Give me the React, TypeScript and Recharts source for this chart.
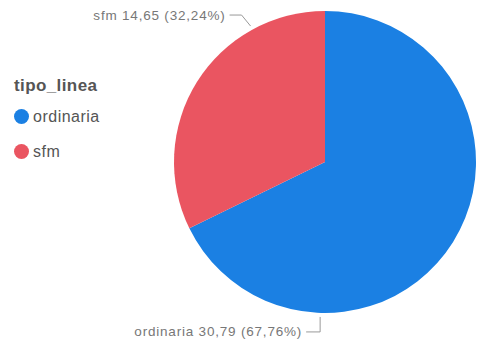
import React from "react";
import { PieChart, Pie, Cell, Legend } from "recharts";

const categories = ["ordinaria", "sfm"];
const values = [30.79, 14.65];
const colors = ["#1b80e3", "#ea5561"];
const legendTitle = "tipo_linea";

const data = categories.map((name, i) => ({ name, value: values[i] }));

const fmt = (n: number) => n.toFixed(2).replace(".", ",");

const RAD = Math.PI / 180;
const polar = (cx: number, cy: number, r: number, a: number) => ({
  x: cx + r * Math.cos(-a * RAD),
  y: cy + r * Math.sin(-a * RAD),
});

const renderLabel = (props: any) => {
  const { cx, cy, outerRadius, index, name, value, percent } = props;
  const text = `${name} ${fmt(value)} (${fmt(percent * 100)}%)`;
  let pts: { x: number; y: number }[];
  if (index === 0) {
    const p1 = polar(cx, cy, outerRadius + 4, -91.8);
    const p2 = { x: p1.x, y: p1.y + 15 };
    const p3 = { x: p2.x - 14, y: p2.y };
    pts = [p1, p2, p3];
  } else {
    const p1 = polar(cx, cy, outerRadius + 4, 118.7);
    const p2 = { x: p1.x - 9, y: p1.y - 11 };
    const p3 = { x: p2.x - 12, y: p2.y };
    pts = [p1, p2, p3];
  }
  const last = pts[pts.length - 1];
  return (
    <g>
      <polyline
        points={pts.map((p) => `${p.x},${p.y}`).join(" ")}
        fill="none"
        stroke="#999"
        strokeWidth={1}
      />
      <text
        x={last.x - 4}
        y={last.y}
        textAnchor="end"
        dominantBaseline="central"
        fill="#777"
        fontSize={13.5}
        letterSpacing={0.8}
        fontFamily="'Liberation Sans', Arial, sans-serif"
      >
        {text}
      </text>
    </g>
  );
};

const renderLegend = () => (
  <div style={{ fontFamily: "'Liberation Sans', Arial, sans-serif" }}>
    <div
      style={{
        fontSize: 17,
        fontWeight: 700,
        color: "#555",
        letterSpacing: 0.4,
        height: 24,
        lineHeight: "24px",
      }}
    >
      {legendTitle}
    </div>
    {categories.map((c, i) => (
      <div
        key={c}
        style={{
          display: "flex",
          alignItems: "center",
          height: 35,
          marginTop: i === 0 ? 1 : 0,
        }}
      >
        <span
          style={{
            display: "inline-block",
            width: 15,
            height: 15,
            borderRadius: "50%",
            background: colors[i],
            marginRight: 4,
          }}
        />
        <span style={{ fontSize: 16, color: "#555", letterSpacing: 0.5 }}>{c}</span>
      </div>
    ))}
  </div>
);

export default function App() {
  return (
    <div style={{ position: "absolute", left: 0, top: 0, background: "#fff" }}>
      <PieChart width={481} height={339} margin={{ top: 0, right: 0, bottom: 0, left: 0 }}>
        <Legend
          content={renderLegend}
          layout="vertical"
          wrapperStyle={{ position: "absolute", left: 14, top: 74, width: 140 }}
        />
        <Pie
          data={data}
          dataKey="value"
          nameKey="name"
          cx={325}
          cy={162}
          outerRadius={151}
          startAngle={90}
          endAngle={-270}
          stroke="none"
          label={renderLabel}
          labelLine={false}
          isAnimationActive={false}
        >
          {data.map((d, i) => (
            <Cell key={d.name} fill={colors[i]} />
          ))}
        </Pie>
      </PieChart>
    </div>
  );
}
